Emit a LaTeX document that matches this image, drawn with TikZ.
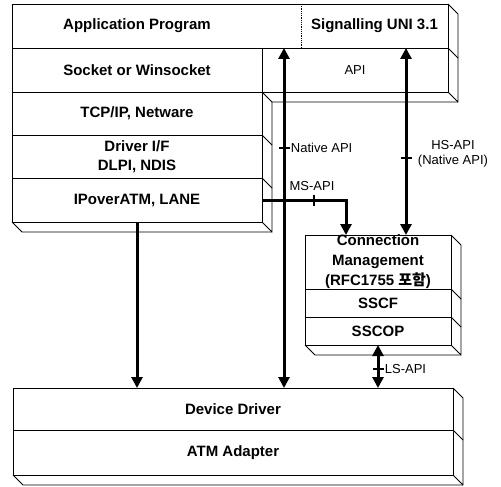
\documentclass[tikz,border=0pt]{standalone}
\usepackage{fontspec}
\setmainfont{Liberation Sans}
\newfontfamily\kofont{Noto Sans CJK KR}
\usepackage{tikz}
\usetikzlibrary{calc,arrows.meta}
\definecolor{ink}{HTML}{000000}
\tikzset{
  box/.style={draw=ink, line width=0.9pt, line join=round},
  cell/.style={box, anchor=north west, inner sep=0pt, outer sep=0pt, align=center,
    font=\fontsize{15}{19}\selectfont\bfseries},
  plain/.style={cell, draw=none},
  sep/.style={draw=ink, line width=0.8pt, densely dotted},
  arr/.style={draw=ink, line width=3pt, -{Triangle[length=11pt,width=11pt]}},
  dbl/.style={draw=ink, line width=3pt, {Triangle[length=11pt,width=11pt]}-{Triangle[length=11pt,width=11pt]}},
  tick/.style={rectangle, fill=ink, minimum width=11pt, minimum height=2pt, inner sep=0pt},
  lab/.style={text=ink, font=\fontsize{13}{15}\selectfont, inner sep=1pt},
}
\begin{document}
\begin{tikzpicture}[x=1pt, y=-1pt]
  \useasboundingbox (0,0) rectangle (501,487);
  \def\dz{10}
  % upper stack
  \node[plain, minimum width=250, minimum height=44] (app) at (12,4) {Application Program};
  \node[plain, minimum width=147, minimum height=44] (sig) at (301,4) {Signalling UNI 3.1};
  \draw[box] (app.north west) rectangle (sig.south east);
  \draw[sep] (sig.north west) -- (sig.south west);
  \node[cell, minimum width=250, minimum height=44] (sock) at (12,48) {Socket or Winsocket};
  \node[cell, minimum width=186, minimum height=44, font=\fontsize{13}{15}\selectfont] (api) at (262,48) {API};
  \node[cell, minimum width=250, minimum height=43] (tcp) at (12,92) {TCP/IP, Netware};
  \node[cell, minimum width=250, minimum height=43] (drv) at (12,135) {Driver I/F\\DLPI, NDIS};
  \node[cell, minimum width=250, minimum height=44] (ipa) at (12,178) {IPoverATM, LANE};
  \draw[box] (sig.north east) -- ++(\dz,\dz) -- ($(api.south east)+(\dz,\dz)$) -- (api.south east);
  \draw[box] (api.north east) -- ++(\dz,\dz);
  \draw[box] (api.south west) -- ++(\dz,\dz) -- ($(api.south east)+(\dz,\dz)$);
  \draw[box] ($(api.south west)+(\dz,\dz)$) -- ($(ipa.south east)+(\dz,\dz)$) -- (ipa.south east);
  \draw[box] (tcp.south east) -- ++(\dz,\dz) (drv.south east) -- ++(\dz,\dz);
  \draw[box] (ipa.south west) -- ++(\dz,\dz) -- ($(ipa.south east)+(\dz,\dz)$);
  % connection management
  \node[cell, minimum width=146, minimum height=54,
    label={[font=\fontsize{15}{20}\selectfont\bfseries, align=center]center:Connection\\Management\\(RFC1755 {\kofont 포함})}] (cm) at (305,235) {};
  \node[cell, minimum width=146, minimum height=28] (sscf) at (305,289) {SSCF};
  \node[cell, minimum width=146, minimum height=28] (sscop) at (305,317) {SSCOP};
  \draw[box] (cm.north east) -- ++(\dz,\dz) -- ($(sscop.south east)+(\dz,\dz)$) -- (sscop.south east);
  \draw[box] (cm.south east) -- ++(\dz,\dz) (sscf.south east) -- ++(\dz,\dz);
  \draw[box] (sscop.south west) -- ++(\dz,\dz) -- ($(sscop.south east)+(\dz,\dz)$);
  % lower stack
  \node[cell, minimum width=440, minimum height=42] (dev) at (13,388) {Device Driver};
  \node[cell, minimum width=440, minimum height=45] (atm) at (13,430) {ATM Adapter};
  \draw[box] (dev.north east) -- ++(\dz,\dz) -- ($(atm.south east)+(\dz,\dz)$) -- (atm.south east);
  \draw[box] (dev.south east) -- ++(\dz,\dz);
  \draw[box] (atm.south west) -- ++(\dz,\dz) -- ($(atm.south east)+(\dz,\dz)$);
  % interfaces
  \coordinate (nat) at (284,0);
  \coordinate (hs) at (406,0);
  \coordinate (ms) at (346,0);
  \draw[arr] (ipa.south) -- (ipa.south |- dev.north);
  \draw[dbl] (nat |- app.south) -- (nat |- dev.north);
  \draw[dbl] (hs |- sig.south) -- (hs |- cm.north);
  \draw[arr] (ipa.east) -| (ms |- cm.north);
  \draw[dbl] (sscop.south) -- (sscop.south |- dev.north);
  \node[tick] (tknat) at (284,148) {};
  \node[tick] (tkhs) at (406,158) {};
  \node[tick, rotate=90] (tkms) at (314,200) {};
  \node[tick] (tkls) at (378,369) {};
  \node[lab, anchor=west] (natlbl) at (tknat.east) {Native API};
  \node[lab, align=center] (hslbl) at (453,154) {HS-API\\(Native API)};
  \node[lab] (mslbl) at (312,186) {MS-API};
  \node[lab, anchor=west] (lslbl) at (tkls.east) {LS-API};
\end{tikzpicture}
\end{document}
